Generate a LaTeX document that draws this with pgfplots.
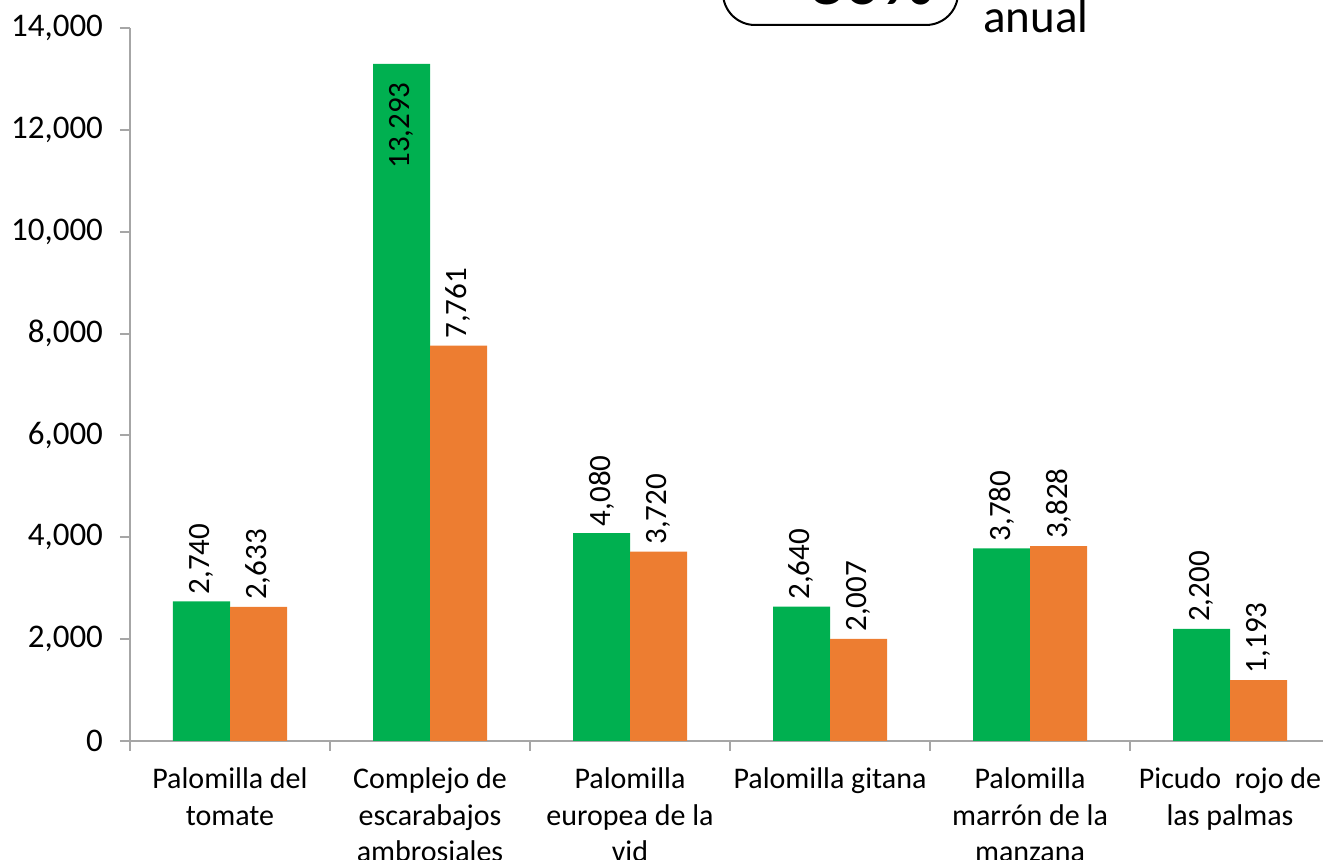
\documentclass[border=0pt]{standalone}
\usepackage{fontspec}
\setmainfont{Carlito}
\usepackage{pgfplots}
\pgfplotsset{compat=1.18}
\definecolor{verde}{HTML}{00B050}
\definecolor{naranja}{HTML}{ED7D31}
\definecolor{eje}{HTML}{A6A6A6}
\tikzset{etiq/.code={\ifdim\rawy pt>10000pt\pgfkeysalso{anchor=east, inner xsep=9pt}\else\pgfkeysalso{anchor=west}\fi}}

\begin{document}
\begin{tikzpicture}
\useasboundingbox (0,0) rectangle (661.5pt,430pt);
\clip (0,0) rectangle (661.5pt,430pt);

% recuadro de la tasa (cortado arriba)
\draw[line width=1pt, rounded corners=16pt] (361.5pt,417.5pt) rectangle (479pt,455pt);
\node[anchor=base, inner sep=0pt, font=\fontsize{36}{40}\selectfont\bfseries] at (430pt,427.5pt) {-30\%};
\node[anchor=base west, inner sep=0pt, font=\fontsize{23.5}{28}\selectfont] at (491.5pt,413.5pt) {anual};

\begin{axis}[
    at={(65pt,59.5pt)}, anchor=south west,
    scale only axis, width=600pt, height=356.5pt,
    xmin=-0.5, xmax=5.5, ymin=0, ymax=14000,
    ybar=0pt, bar width=28.5pt,
    axis lines*=left,
    axis line style={eje, line width=1pt},
    tick style={eje, line width=1pt},
    tick align=outside,
    major tick length=5pt,
    scaled y ticks=false,
    /pgf/number format/assume math mode=true,
    /pgf/number format/fixed,
    /pgf/number format/1000 sep={,},
    ytick={0,2000,...,14000},
    yticklabel style={font=\fontsize{16.5}{19}\selectfont, xshift=-5pt},
    xtick={-0.5,0.5,1.5,2.5,3.5,4.5,5.5},
    xticklabels={},
    extra x ticks={0,1,2,3,4,5},
    extra x tick labels={Palomilla del\\tomate, Complejo de\\escarabajos\\ambrosiales, Palomilla\\europea de la\\vid, Palomilla gitana, Palomilla\\marrón de la\\manzana, Picudo~ rojo de\\las palmas},
    extra x tick style={major tick length=0pt,
        xticklabel style={font=\fontsize{15}{18.2}\selectfont, align=center, anchor=north, yshift=-10pt}},
    visualization depends on={rawy \as \rawy},
    nodes near coords,
    every node near coord/.append style={rotate=90, black, etiq,
        font=\fontsize{15.5}{18}\selectfont},
]
\addplot[fill=verde, draw=none]
    coordinates {(0,2740) (1,13293) (2,4080) (3,2640) (4,3780) (5,2200)};
\addplot[fill=naranja, draw=none]
    coordinates {(0,2633) (1,7761) (2,3720) (3,2007) (4,3828) (5,1193)};
\end{axis}
\end{tikzpicture}
\end{document}
